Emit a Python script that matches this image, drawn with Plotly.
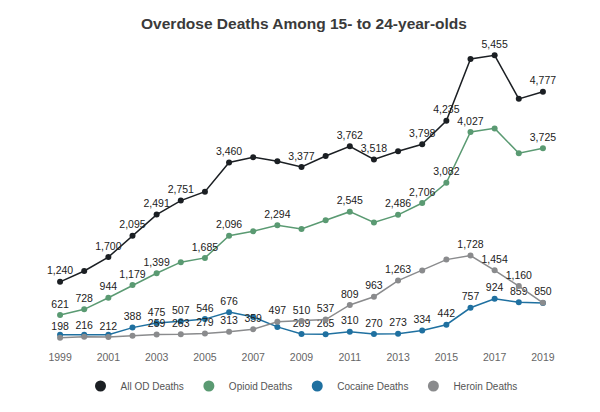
import plotly.graph_objects as go

years = list(range(1999, 2020))

all_od = [1240, 1441, 1700, 2095, 2491, 2751, 2918, 3460, 3559, 3485, 3377,
          3582, 3762, 3518, 3668, 3798, 4235, 5388, 5455, 4644, 4777]
opioid = [621, 728, 944, 1179, 1399, 1606, 1685, 2096, 2181, 2294, 2223,
          2387, 2545, 2345, 2486, 2706, 3082, 4027, 4095, 3632, 3725]
cocaine = [255, 255, 254, 388, 475, 507, 546, 676, 585, 401, 269,
           265, 310, 270, 273, 334, 442, 757, 924, 859, 845]
heroin = [198, 216, 212, 235, 259, 263, 279, 313, 359, 497, 510,
          537, 809, 963, 1263, 1452, 1653, 1728, 1454, 1160, 850]

# which points carry a value label
all_od_labeled = [1999, 2001, 2002, 2003, 2004, 2006, 2009, 2011, 2012, 2014, 2015, 2017, 2019]
opioid_labeled = [1999, 2000, 2001, 2002, 2003, 2005, 2006, 2008, 2011, 2013, 2014, 2015, 2016, 2019]
cocaine_labeled = [2002, 2003, 2004, 2005, 2006, 2009, 2010, 2011, 2012, 2013, 2014, 2015, 2016, 2017, 2018]
heroin_labeled = [1999, 2000, 2001, 2003, 2004, 2005, 2006, 2007, 2008, 2009, 2010, 2011, 2012, 2013,
                  2016, 2017, 2018, 2019]

series = [
    ("All OD Deaths", all_od, all_od_labeled, "#1b1f23"),
    ("Opioid Deaths", opioid, opioid_labeled, "#5a9a72"),
    ("Cocaine Deaths", cocaine, cocaine_labeled, "#1f70a0"),
    ("Heroin Deaths", heroin, heroin_labeled, "#8a8b8d"),
]

fig = go.Figure()
for name, vals, labeled, color in series:
    text = [f"{v:,}" if y in labeled else "" for y, v in zip(years, vals)]
    fig.add_trace(go.Scatter(
        x=years, y=vals, name=name, mode="lines+markers+text",
        text=text, textposition="top center",
        textfont=dict(size=10.5, color="#222222"),
        line=dict(color=color, width=1.5),
        marker=dict(color=color, size=6),
        cliponaxis=False, showlegend=False,
    ))

# legend shows plain dots, like the original
for name, vals, labeled, color in series:
    fig.add_trace(go.Scatter(
        x=[None], y=[None], name=name, mode="markers",
        marker=dict(color=color, size=11),
    ))

# the page body adds an 8px offset, so the figure is 8px smaller
fig.update_layout(
    width=592, height=404,
    paper_bgcolor="white", plot_bgcolor="white",
    font=dict(family="Liberation Sans, Arial, sans-serif"),
    title=dict(text="<b>Overdose Deaths Among 15- to 24-year-olds</b>",
               x=0.5, xanchor="center", y=0.962, yanchor="middle",
               font=dict(size=15.5, color="#3a3a3a")),
    margin=dict(l=40, r=45, t=41, b=58),
    showlegend=True,
    legend=dict(orientation="h", x=0.5, xanchor="center", y=-0.075, yanchor="top",
                font=dict(size=10, color="#555555")),
    xaxis=dict(range=[1998.5, 2019.5], tickmode="array",
               tickvals=list(range(1999, 2020, 2)),
               showgrid=False, zeroline=False, showline=False,
               tickfont=dict(size=10.5, color="#666666")),
    yaxis=dict(range=[-10, 5572], visible=False, showgrid=False, zeroline=False),
)

fig.write_html("out.html")
